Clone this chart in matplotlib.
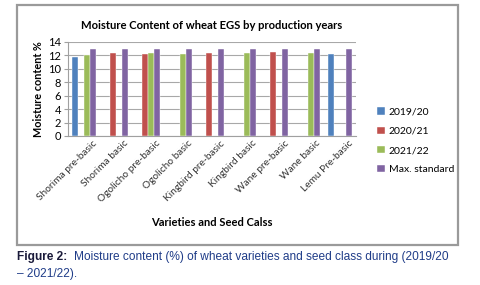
import numpy as np
import matplotlib.pyplot as plt
from matplotlib.patches import Rectangle

# Dados (NaN = sem barra)
categorias = ['Shorima pre-basic', 'Shorima basic', 'Ogolicho pre-basic', 'Ogolicho basic',
              'Kingbird pre-basic', 'Kingbird basic', 'Wane pre-basic', 'Wane basic',
              'Lemu Pre-basic']
ano_2019_20 = [11.8, np.nan, np.nan, np.nan, np.nan, np.nan, np.nan, np.nan, 12.2]
ano_2020_21 = [np.nan, 12.3, 12.2, np.nan, 12.4, np.nan, 12.5, np.nan, np.nan]
ano_2021_22 = [12.1, np.nan, 12.3, 12.2, np.nan, 12.3, np.nan, 12.4, np.nan]
max_padrao = [13, 13, 13, 13, 13, 13, 13, 13, 13]

series = ['2019/20', '2020/21', '2021/22', 'Max. standard']
cores = ['#4F81BD', '#C0504D', '#9BBB59', '#8064A2']
fonte = ['Lato', 'DejaVu Sans']

fig = plt.figure(figsize=(4.81, 2.85), dpi=100)

# moldura do gráfico
fig.patches.append(Rectangle((17/481, 1-245/285), 441/481, 240/285, transform=fig.transFigure,
                             fill=False, edgecolor='#9a9a9a', linewidth=1.6))

ax = fig.add_axes([68/481, 1-136/285, 288/481, 94/285])
x = np.arange(len(categorias))
largura = 0.19
for i, (vals, nome, cor) in enumerate(zip([ano_2019_20, ano_2020_21, ano_2021_22, max_padrao], series, cores)):
    ax.bar(x + (i - 1.5) * largura, vals, largura, color=cor, label=nome,
           edgecolor='white', linewidth=0.3, zorder=3)

ax.set_xlim(-0.5, len(categorias) - 0.5)
ax.set_ylim(0, 14)
ax.set_yticks(range(0, 15, 2))
ax.yaxis.grid(True, color='#a8a8a8', linewidth=0.8, zorder=0)
ax.set_axisbelow(True)
for s in ['top', 'right']:
    ax.spines[s].set_visible(False)
for s in ['left', 'bottom']:
    ax.spines[s].set_color('#a0a0a0')
ax.tick_params(axis='y', length=3, color='#a0a0a0', labelsize=8, pad=2)
ax.tick_params(axis='x', length=0, pad=2)
ax.set_xticks(x + 0.25)
ax.set_xticklabels(categorias, rotation=45, ha='right', rotation_mode='anchor',
                   fontsize=7.3, family=fonte, color='#333333')
for t in ax.get_yticklabels():
    t.set_family(fonte)

ax.set_title('Moisture Content of wheat EGS by production years', fontsize=8.1,
             fontweight='bold', family=fonte, pad=9)
ax.set_ylabel('Moisture content %', fontsize=7.8, fontweight='bold', family=fonte, labelpad=3)
fig.text(212/481, 1-223/285, 'Varieties and Seed Calss', ha='center', va='center',
         fontsize=8, fontweight='bold', family=fonte)

fig.legend(loc='upper left', bbox_to_anchor=(368/481, 1-98/285), frameon=False,
           prop={'family': fonte, 'size': 7.5}, handlelength=0.7, handleheight=0.7,
           handletextpad=0.4, labelspacing=0.95)

# legenda da figura
t1 = fig.text(17/481, 1-257/285, 'Figure 2:', fontsize=8.6, fontweight='bold',
              family=['Liberation Sans'], color='#1a1a3a', va='center')
fig.canvas.draw()
bb = t1.get_window_extent()
fig.text(bb.x1/481 + 7/481, 1-257/285,
         'Moisture content (%) of wheat varieties and seed class during (2019/20',
         fontsize=8.6, family=['Liberation Sans'], color='#1f3c88', va='center')
fig.text(17/481, 1-274/285, '\u2013 2021/22).', fontsize=8.6, family=['Liberation Sans'],
         color='#1f3c88', va='center')

fig.savefig('out.png', dpi=100)
